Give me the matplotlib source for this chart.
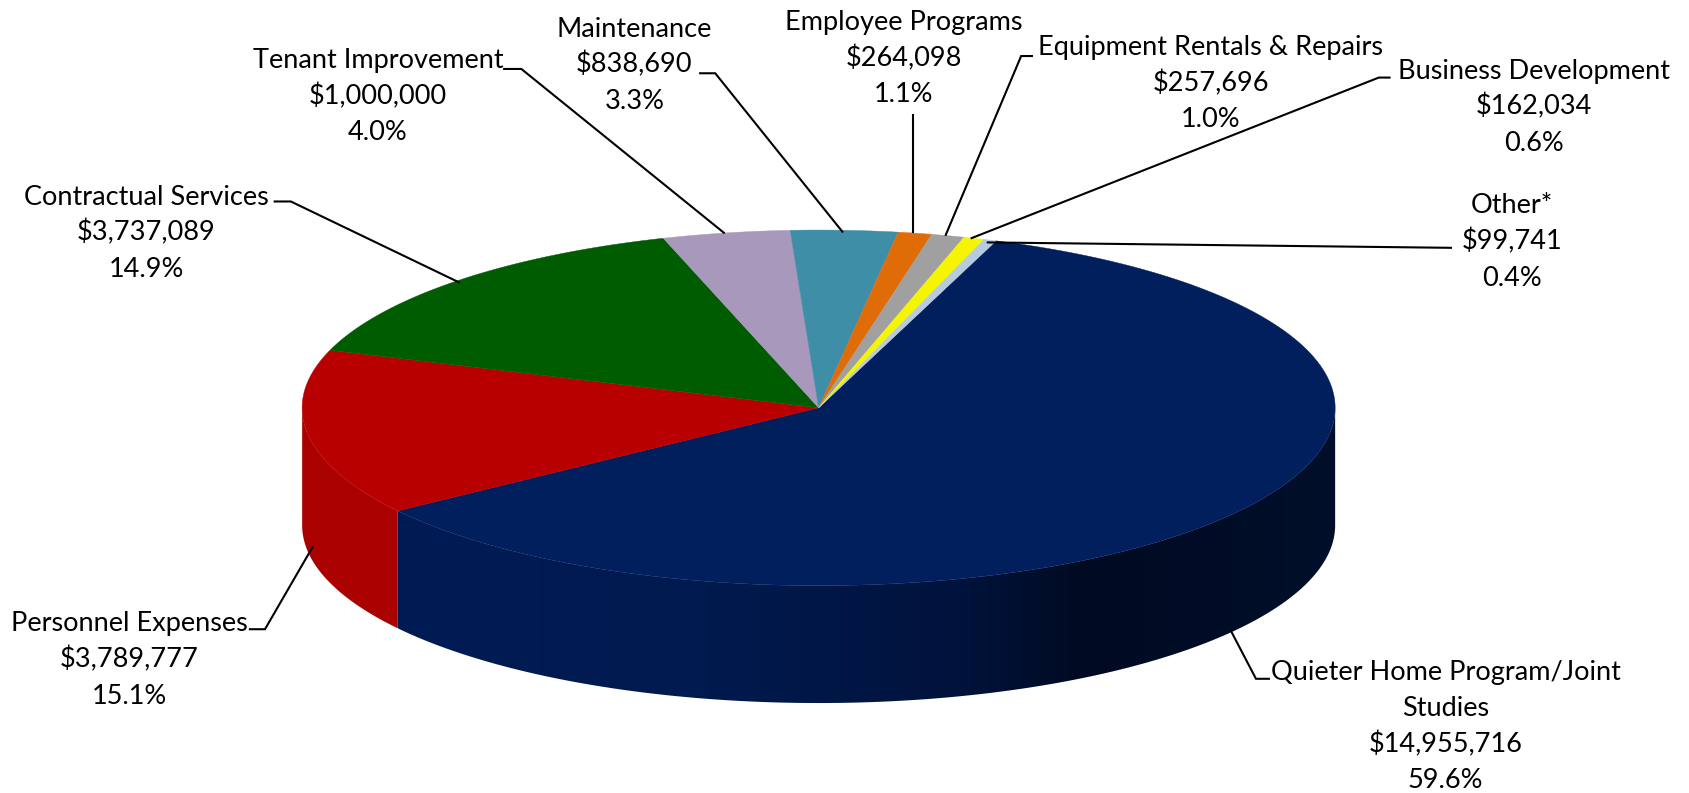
import matplotlib
matplotlib.use('Agg')
import matplotlib.pyplot as plt
import numpy as np
from matplotlib.colors import LinearSegmentedColormap
from matplotlib.patches import Polygon

plt.rcParams['font.family'] = ['Lato', 'DejaVu Sans']

names = ['Quieter Home Program/Joint\nStudies', 'Personnel Expenses', 'Contractual Services',
         'Tenant Improvement', 'Maintenance', 'Employee Programs',
         'Equipment Rentals & Repairs', 'Business Development', 'Other*']
amounts = [14955716, 3789777, 3737089, 1000000, 838690, 264098, 257696, 162034, 99741]
colors = ['#001f5c', '#b90000', '#005c00', '#a898bc', '#3f8ea8',
          '#e06c08', '#a0a0a0', '#f5f500', '#b4cbe0']

# Label centre x and first baseline y
label_x = [1342, 120, 136, 351, 589, 839, 1124, 1424, 1404]
label_y = [631, 586, 190, 63, 34, 28, 51, 73, 198]

# Leader lines, from the label to the pie edge
leaders = [
    [(1178, 630), (1166, 630), (1143, 586)],
    [(232, 584), (246, 584), (290, 508)],
    [(255, 187), (270, 187), (426, 262)],
    [(468, 64), (484, 64), (672, 216)],
    [(650, 68), (664, 68), (782, 215)],
    [(848, 107), (848, 215)],
    [(958, 52), (948, 52), (878, 218)],
    [(1290, 72), (1280, 72), (902, 221)],
    [(1347, 230), (917, 225)],
]

cx, cy = 760, 378.5
rx, ry = 479.5, 165
depth = 109
start_angle = 20.1
line_h = 33.5


def rim(a1, a2, dy=0):
    # Points on the pie edge, angles clockwise from the top
    t = np.radians(np.linspace(a1, a2, 300))
    return np.column_stack([cx + rx * np.sin(t), cy + dy - ry * np.cos(t)])


fig = plt.figure(figsize=(16.89, 7.93), dpi=100)
ax = fig.add_axes([0, 0, 1, 1])
ax.set_xlim(0, 1568)
ax.set_ylim(736, 0)
ax.axis('off')

total = sum(amounts)
sweeps = [a / total * 360 for a in amounts]
edges = start_angle + np.concatenate([[0], np.cumsum(sweeps)])

# Side wall: navy part gets a left to right gradient, red part is flat
navy_end = edges[1]
red_end = 270
navy_side = np.vstack([rim(90, navy_end), rim(navy_end, 90, depth)])
red_side = np.vstack([rim(navy_end, red_end), rim(red_end, navy_end, depth)])
ax.add_patch(Polygon(red_side, closed=True, fc='#ab0000', ec='none'))

side_cmap = LinearSegmentedColormap.from_list(
    'side', [(0, '#001b54'), (0.3, '#001a50'), (0.6, '#00133c'), (0.73, '#000a22'), (1, '#000f2a')])
grad = ax.imshow(np.linspace(0, 1, 512)[None, :], cmap=side_cmap, aspect='auto',
                 extent=[cx + rx * np.sin(np.radians(navy_end)), cx + rx, 736, 0], zorder=1)
clip = Polygon(navy_side, closed=True, fc='none', ec='none', transform=ax.transData)
ax.add_patch(clip)
grad.set_clip_path(clip)
ax.set_xlim(0, 1568)
ax.set_ylim(736, 0)

# Top face
for i, c in enumerate(colors):
    pts = np.vstack([[(cx, cy)], rim(edges[i], edges[i + 1])])
    ax.add_patch(Polygon(pts, closed=True, fc=c, ec=c, lw=0.3, zorder=2))

for line in leaders:
    xs, ys = zip(*line)
    ax.plot(xs, ys, color='black', lw=1.5, zorder=3, solid_joinstyle='miter')

for name, amount, x, y in zip(names, amounts, label_x, label_y):
    rows = name.split('\n') + [f'${amount:,}', f'{amount / total * 100:.1f}%']
    for j, row in enumerate(rows):
        ax.text(x, y + j * line_h, row, ha='center', va='baseline', fontsize=19.5, color='black')

fig.savefig('out.png', dpi=100)
